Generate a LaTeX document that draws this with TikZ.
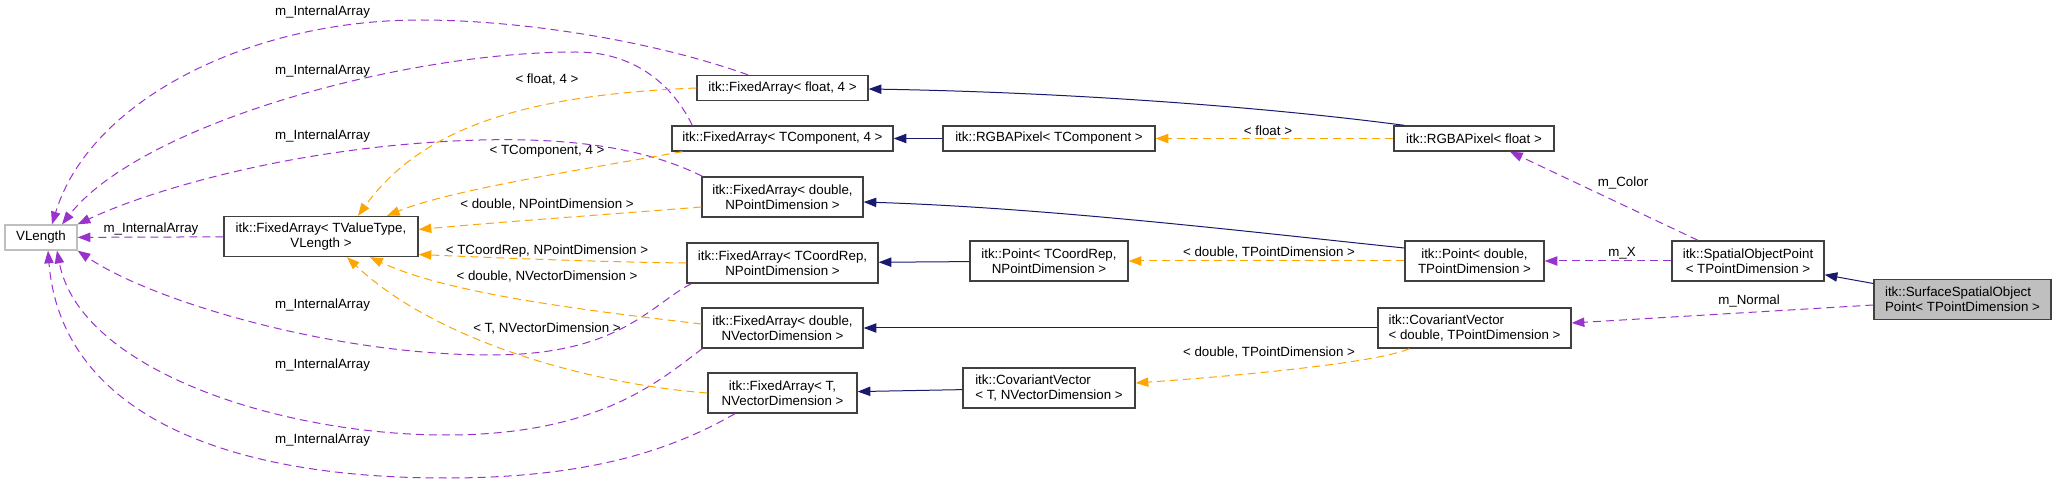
\documentclass[tikz,border=0pt]{standalone}
\usepackage{fontspec}
\setmainfont{Liberation Sans}
\usetikzlibrary{arrows.meta, positioning, calc}
\definecolor{orchid}{RGB}{154,50,205}
\definecolor{tmplorange}{RGB}{255,165,0}
\definecolor{navyblue}{RGB}{25,25,112}
\definecolor{boxgray}{RGB}{191,191,191}
\definecolor{boxline}{RGB}{64,64,64}

\tikzset{
  cls/.style={draw=boxline, line width=1pt, inner sep=0pt, minimum height=18.75pt,
    font=\fontsize{10}{11.25}\selectfont, align=center},
  tall/.style={minimum height=30pt},
  wd/.style={minimum width=#1*0.75pt},
  lbl/.style={inner sep=0pt, font=\fontsize{10}{12}\selectfont},
  member/.style={draw=orchid, line width=0.75pt, dash pattern=on 6pt off 3.75pt,
    -{Triangle[length=9.5pt,width=7pt]}},
  tmpl/.style={draw=tmplorange, line width=0.75pt, dash pattern=on 6pt off 3.75pt,
    -{Triangle[length=9.5pt,width=7pt]}},
  inherit/.style={draw=navyblue, line width=0.75pt, -{Triangle[length=9.5pt,width=7pt]}}
}

\begin{document}
\begin{tikzpicture}[x=0.75pt, y=-0.75pt]
  \useasboundingbox (0,0) rectangle (2056,484);
  % classes
  \node[cls, draw=boxgray, wd=72] (vlen) at (41,237.5) {VLength};
  \node[cls, tall, wd=194] (fatv) at (321,236.5) {itk::FixedArray< TValueType,\\VLength >};
  \node[cls, wd=171] (faf4) at (782.5,88) {itk::FixedArray< float, 4 >};
  \node[cls, wd=221] (fatc4) at (782.5,138.5) {itk::FixedArray< TComponent, 4 >};
  \node[cls, wd=212] (rgbatc) at (1049,138.5) {itk::RGBAPixel< TComponent >};
  \node[cls, wd=160] (rgbaf) at (1474,138.5) {itk::RGBAPixel< float >};
  \node[cls, tall, wd=161] (fadnp) at (782.5,197) {itk::FixedArray< double,\\NPointDimension >};
  \node[cls, tall, wd=191] (facr) at (782.5,263) {itk::FixedArray< TCoordRep,\\NPointDimension >};
  \node[cls, tall, wd=158] (ptcr) at (1049,261) {itk::Point< TCoordRep,\\NPointDimension >};
  \node[cls, tall, wd=139] (ptd) at (1474.5,261) {itk::Point< double,\\TPointDimension >};
  \node[cls, tall, wd=152] (sop) at (1748,261) {itk::SpatialObjectPoint\\< TPointDimension >};
  \node[cls, tall, wd=177, fill=boxgray, align=left] (ssop) at (1962.5,299.5) {itk::SurfaceSpatialObject\\Point< TPointDimension >};
  \node[cls, tall, wd=161] (fadnv) at (782.5,328) {itk::FixedArray< double,\\NVectorDimension >};
  \node[cls, tall, wd=193, align=left] (cvd) at (1474.5,328) {itk::CovariantVector\\< double, TPointDimension >};
  \node[cls, tall, wd=149] (fatnv) at (782.5,393) {itk::FixedArray< T,\\NVectorDimension >};
  \node[cls, tall, wd=172, align=left] (cvt) at (1049,388) {itk::CovariantVector\\< T, NVectorDimension >};

  % m_InternalArray members
  \draw[member] (fatv) -- (vlen);
  \draw[member] ($(faf4.north)+(-34.5,0)$) .. controls (650,40) and (520,20) .. (420,20)
    .. controls (250,20) and (90,100) .. ($(vlen.north)+(11,0)$);
  \draw[member] ($(fatc4.north west)+(21,0)$) .. controls (670,80) and (630,52) .. (576,52)
    .. controls (400,52) and (140,125) .. ($(vlen.north)+(21,0)$);
  \draw[member] ($(fadnp.north west)+(1,0)$) .. controls (640,145) and (560,138) .. (480,140)
    .. controls (300,145) and (150,190) .. (vlen.north east);
  \draw[member] ($(facr.south west)+(5,0)$) .. controls (650,305) and (620,355) .. (491,355)
    .. controls (330,355) and (150,300) .. (vlen.south east);
  \draw[member] ($(fadnv.south west)+(1,0)$) .. controls (660,380) and (600,435) .. (446,435)
    .. controls (280,435) and (80,370) .. ($(vlen.south)+(16,0)$);
  \draw[member] ($(fatnv.south)+(-47.5,0)$) .. controls (680,445) and (600,478) .. (446,478)
    .. controls (200,478) and (60,400) .. ($(vlen.south)+(7,0)$);
  \node[lbl] (ia0) at (151,229) {m\_InternalArray};
  \foreach \y/\nm in {12/ia1, 71/ia2, 136/ia3, 305/ia4, 365/ia5, 440/ia6}
    \node[lbl] (\nm) at (322.5,\y) {m\_InternalArray};

  % template arguments of FixedArray
  \draw[tmpl] (faf4.west) .. controls (520,95) and (420,130) .. ($(fatv.north)+(37,0)$);
  \draw[tmpl] ($(fatc4.south west)+(11,0)$) .. controls (580,170) and (450,190) .. ($(fatv.north)+(66,0)$);
  \draw[tmpl] ($(fadnp.west)+(0,10)$) .. controls (600,215) and (500,222) .. ($(fatv.east)+(0,-7)$);
  \draw[tmpl] (facr.west) .. controls (600,262) and (500,258) .. ($(fatv.east)+(0,18)$);
  \draw[tmpl] ($(fadnv.west)+(0,-4)$) .. controls (600,312) and (450,295) .. ($(fatv.south)+(49,0)$);
  \draw[tmpl] (fatnv.west) .. controls (600,385) and (440,345) .. ($(fatv.south)+(26,0)$);
  \node[lbl] (tf4) at (547,80) {< float, 4 >};
  \node[lbl] (tc4) at (547,151) {< TComponent, 4 >};
  \node[lbl] (tdnp) at (547,205) {< double, NPointDimension >};
  \node[lbl] (tcr) at (547,251) {< TCoordRep, NPointDimension >};
  \node[lbl] (tdnv) at (547,277) {< double, NVectorDimension >};
  \node[lbl] (ttnv) at (547,329) {< T, NVectorDimension >};

  % inheritance
  \draw[inherit] ($(rgbaf.north west)+(11,0)$) .. controls (1250,105) and (1050,92) .. ($(faf4.east)+(0,1)$);
  \draw[inherit] (rgbatc) -- (fatc4);
  \draw[inherit] ($(ptd.west)+(0,-13)$) .. controls (1250,232) and (1050,208) .. ($(fadnp.east)+(0,5)$);
  \draw[inherit] (ptcr) -- (facr);
  \draw[inherit] (cvd) -- (fadnv);
  \draw[inherit] (cvt) -- (fatnv);
  \draw[inherit] (ssop) -- (sop);

  % right part
  \draw[tmpl] (rgbaf) -- (rgbatc);
  \draw[tmpl] (ptd) -- (ptcr);
  \draw[tmpl] ($(cvd.south west)+(32,0)$) .. controls (1380,362) and (1250,375) .. ($(cvt.east)+(0,-5)$);
  \node[lbl] (tfl) at (1268,131) {< float >};
  \node[lbl] (tdtp1) at (1269,253) {< double, TPointDimension >};
  \node[lbl] (tdtp2) at (1269,353) {< double, TPointDimension >};
  \draw[member] ($(sop.north)+(-50,0)$) -- ($(rgbaf.south)+(36,0)$);
  \draw[member] (sop) -- (ptd);
  \draw[member] ($(ssop.west)+(0,5.5)$) -- ($(cvd.east)+(0,-5)$);
  \node[lbl] (lcolor) at (1623,183) {m\_Color};
  \node[lbl] (lx) at (1622,253) {m\_X};
  \node[lbl] (lnormal) at (1749,301) {m\_Normal};
\end{tikzpicture}
\end{document}
